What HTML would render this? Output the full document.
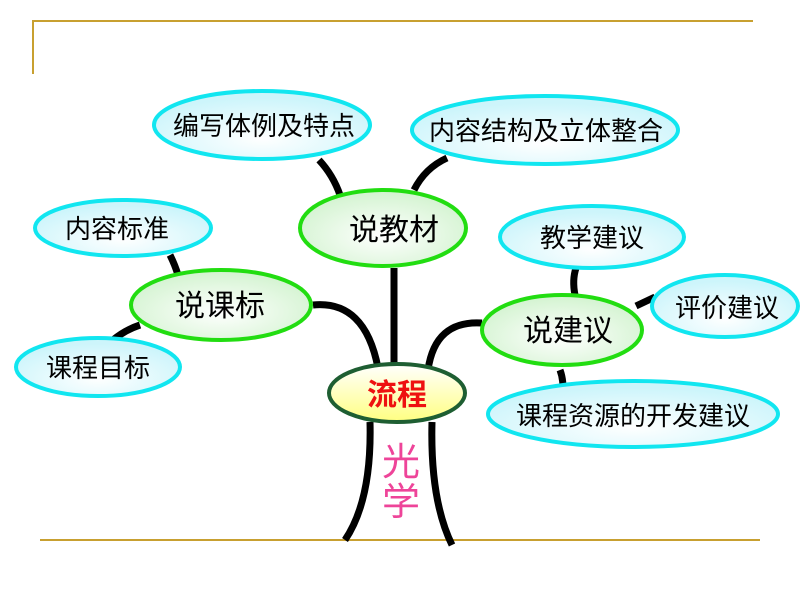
<!DOCTYPE html>
<html><head><meta charset="utf-8"><style>
html,body{margin:0;padding:0;background:#fff;}
svg{display:block;}
text{font-family:"Liberation Sans","Noto Sans CJK SC",sans-serif;}
</style></head><body>
<svg width="800" height="600" viewBox="0 0 800 600" xmlns="http://www.w3.org/2000/svg">
<defs>
<radialGradient id="cy" cx="50%" cy="70%" r="60%">
<stop offset="0" stop-color="#ffffff"/><stop offset="1" stop-color="#cdf5fb"/>
</radialGradient>
<radialGradient id="gr" cx="50%" cy="60%" r="60%">
<stop offset="0" stop-color="#ffffff"/><stop offset="1" stop-color="#d2f3cf"/>
</radialGradient>
<linearGradient id="ye" x1="0" y1="0" x2="0" y2="1">
<stop offset="0" stop-color="#ffffff"/><stop offset="1" stop-color="#ffff80"/>
</linearGradient>
</defs>
<path d="M33,74 V21 H753" fill="none" stroke="#c8a030" stroke-width="2"/>
<line x1="40" y1="540" x2="760" y2="540" stroke="#c8a030" stroke-width="2"/>
<g fill="none" stroke="#000" stroke-width="7" stroke-linecap="butt">
<path d="M319,160 Q333,175 340,195"/>
<path d="M447,158 Q425,168 414,190"/>
<path d="M394,268 V370"/>
<path d="M313,305 Q365,300 378,368"/>
<path d="M482,323 Q435,320 428,370"/>
<path d="M170,255 Q175,265 178,275"/>
<path d="M113,340 Q125,330 140,325"/>
<path d="M576,268 Q572,280 575,295"/>
<path d="M636,306 L655,297"/>
<path d="M560,370 Q563,378 563,388"/>
<path d="M370,422 Q372,500 345,540"/>
<path d="M432,422 Q430,500 452,545"/>
</g>
<g fill="url(#cy)" stroke="#11e6f0" stroke-width="4">
<ellipse cx="262" cy="125" rx="108" ry="34"/>
<ellipse cx="545" cy="130" rx="133" ry="34"/>
<ellipse cx="123" cy="228" rx="88" ry="28"/>
<ellipse cx="98" cy="367" rx="82" ry="29"/>
<ellipse cx="592" cy="237" rx="92" ry="31"/>
<ellipse cx="725" cy="306" rx="73" ry="31"/>
<ellipse cx="633" cy="414" rx="145" ry="33"/>
</g>
<g fill="url(#gr)" stroke="#22dd11" stroke-width="4">
<ellipse cx="383" cy="228" rx="83" ry="38"/>
<ellipse cx="221" cy="305" rx="90" ry="35"/>
<ellipse cx="562" cy="330" rx="80" ry="35"/>
</g>
<ellipse cx="397" cy="393" rx="68" ry="29" fill="url(#ye)" stroke="#1e5e32" stroke-width="4"/>
<g fill="#000" text-anchor="middle">
<text x="264" y="135" font-size="26">编写体例及特点</text>
<text x="546" y="140" font-size="26">内容结构及立体整合</text>
<text x="117" y="238" font-size="26">内容标准</text>
<text x="98" y="377" font-size="26">课程目标</text>
<text x="592" y="247" font-size="26">教学建议</text>
<text x="727" y="317" font-size="26">评价建议</text>
<text x="633" y="425" font-size="26">课程资源的开发建议</text>
<text x="394" y="240" font-size="30">说教材</text>
<text x="220" y="316" font-size="30">说课标</text>
<text x="568" y="341" font-size="30">说建议</text>
</g>
<text x="397" y="405" font-size="30" font-weight="bold" fill="#ee1111" text-anchor="middle">流程</text>
<text x="401" y="475" font-size="38" fill="#ee4499" text-anchor="middle">光</text>
<text x="401" y="515" font-size="38" fill="#ee4499" text-anchor="middle">学</text>
</svg>
</body></html>
